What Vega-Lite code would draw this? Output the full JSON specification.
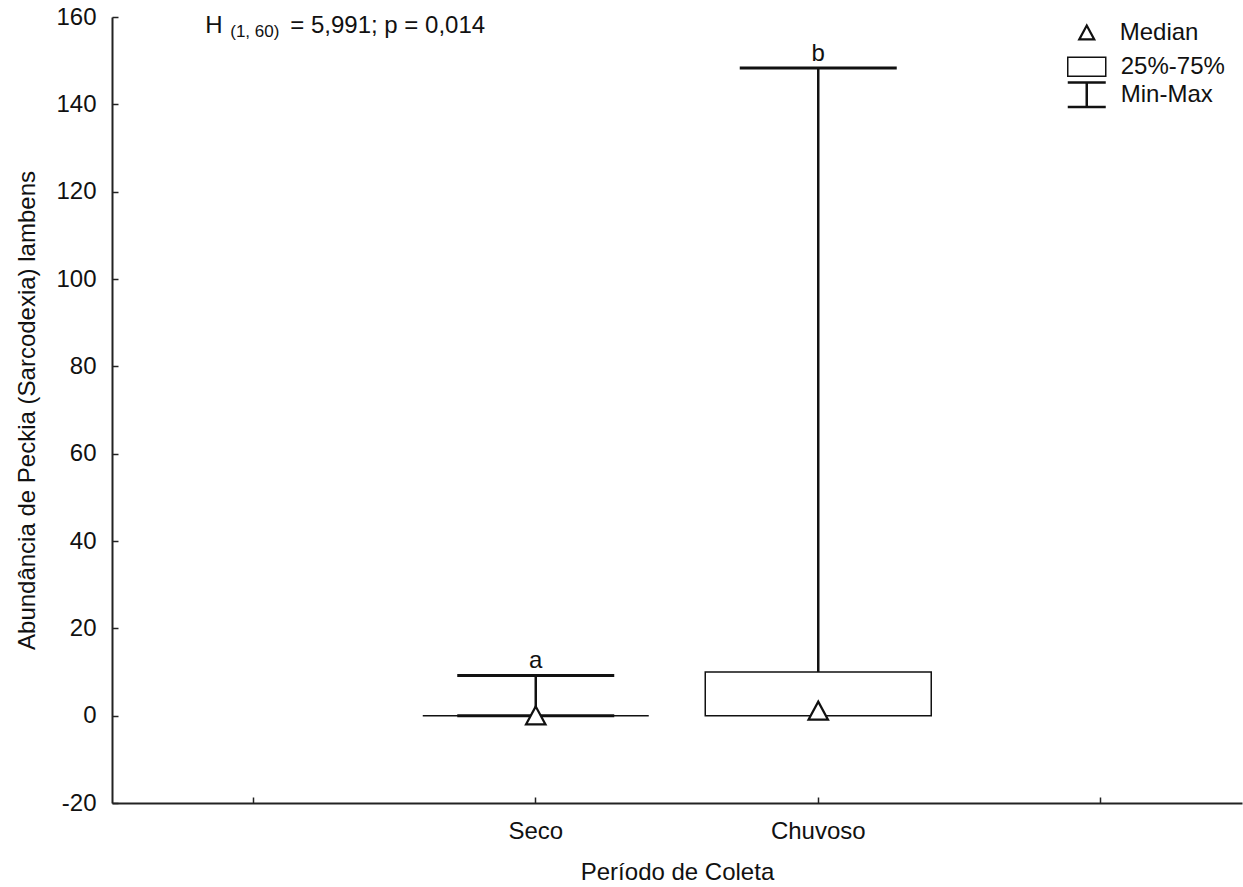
{
  "$schema": "https://vega.github.io/schema/vega-lite/v6.json",
  "width": 1130,
  "height": 786,
  "autosize": {"type": "none"},
  "padding": {"left": 112, "top": 17, "right": 1, "bottom": 84},
  "background": "white",
  "config": {
    "view": {"stroke": null},
    "font": "Liberation Sans",
    "axis": {
      "grid": false,
      "domainColor": "#222222",
      "domainWidth": 2,
      "tickColor": "#222222",
      "tickWidth": 1.5,
      "tickSize": -6,
      "labelColor": "#111111",
      "titleColor": "#111111",
      "labelFont": "Liberation Sans",
      "titleFont": "Liberation Sans",
      "titleFontWeight": "normal",
      "labelFlush": false,
      "labelOverlap": false
    }
  },
  "datasets": {
    "stats": [
      {"periodo": "Seco", "min": 0, "q1": 0, "mediana": 0, "q3": 0, "max": 9.2, "letra": "a"},
      {"periodo": "Chuvoso", "min": 0, "q1": 0, "mediana": 1.1, "q3": 10, "max": 148.3, "letra": "b"}
    ],
    "anot": [{"h": "H", "sub": "(1, 60)", "resto": "= 5,991; p = 0,014"}],
    "legMedian": [{"rotulo": "Median"}],
    "legBox": [{"rotulo": "25%-75%"}],
    "legMinMax": [{"rotulo": "Min-Max"}]
  },
  "data": {"name": "stats"},
  "encoding": {
    "x": {
      "field": "periodo",
      "type": "nominal",
      "sort": null,
      "scale": {"type": "band", "domain": [" ", "Seco", "Chuvoso", "  "], "paddingInner": 0, "paddingOuter": 0},
      "axis": {
        "title": "Período de Coleta",
        "titleFontSize": 24,
        "titlePadding": 17,
        "labelFontSize": 24,
        "labelPadding": 22,
        "labelAngle": 0
      }
    }
  },
  "layer": [
    {
      "mark": {"type": "rule", "color": "#111111", "strokeWidth": 2.5},
      "encoding": {
        "y": {
          "field": "min",
          "type": "quantitative",
          "scale": {"domain": [-20, 160], "nice": false, "zero": false},
          "axis": {
            "values": [-20, 0, 20, 40, 60, 80, 100, 120, 140, 160],
            "labelExpr": "datum.value < 0 ? '-' + abs(datum.value) : '' + datum.value",
            "title": "Abundância de Peckia (Sarcodexia) lambens",
            "titleFontSize": 24,
            "titlePadding": 16,
            "labelFontSize": 24,
            "labelPadding": 22
          }
        },
        "y2": {"field": "max"}
      }
    },
    {
      "mark": {"type": "tick", "color": "#111111", "size": 157, "thickness": 3, "opacity": 1},
      "encoding": {"y": {"field": "max", "type": "quantitative"}}
    },
    {
      "transform": [{"filter": "datum.q3 == datum.q1 || datum.min < datum.q1"}],
      "mark": {"type": "tick", "color": "#111111", "size": 157, "thickness": 3, "opacity": 1},
      "encoding": {"y": {"field": "min", "type": "quantitative"}}
    },
    {
      "mark": {"type": "bar", "fill": "white", "stroke": "#111111", "strokeWidth": 1.5, "opacity": 1, "width": {"band": 0.8}},
      "encoding": {
        "y": {"field": "q1", "type": "quantitative"},
        "y2": {"field": "q3"}
      }
    },
    {
      "mark": {"type": "point", "shape": "M0,-0.95L1,0.9L-1,0.9Z", "filled": false, "fill": "white", "stroke": "#111111", "strokeWidth": 2.2, "size": 380, "opacity": 1},
      "encoding": {
        "y": {"field": "mediana", "type": "quantitative"}
      }
    },
    {
      "mark": {"type": "text", "fontSize": 24, "baseline": "alphabetic", "dy": -7, "color": "#111111"},
      "encoding": {
        "y": {"field": "max", "type": "quantitative"},
        "text": {"field": "letra"}
      }
    },
    {
      "data": {"name": "anot"},
      "mark": {"type": "text", "fontSize": 24, "align": "left", "baseline": "alphabetic", "dx": -48, "color": "#111111"},
      "encoding": {
        "x": {"datum": " "},
        "y": {"datum": 156.4},
        "text": {"field": "h"}
      }
    },
    {
      "data": {"name": "anot"},
      "mark": {"type": "text", "fontSize": 17, "align": "left", "baseline": "alphabetic", "dx": -23, "dy": 4, "color": "#111111"},
      "encoding": {
        "x": {"datum": " "},
        "y": {"datum": 156.4},
        "text": {"field": "sub"}
      }
    },
    {
      "data": {"name": "anot"},
      "mark": {"type": "text", "fontSize": 24, "align": "left", "baseline": "alphabetic", "dx": 37, "color": "#111111"},
      "encoding": {
        "x": {"datum": " "},
        "y": {"datum": 156.4},
        "text": {"field": "resto"}
      }
    },
    {
      "data": {"name": "legMedian"},
      "mark": {"type": "point", "shape": "M0,-0.95L1,0.9L-1,0.9Z", "filled": false, "fill": "white", "stroke": "#111111", "strokeWidth": 2.2, "size": 225, "opacity": 1, "xOffset": -14},
      "encoding": {
        "x": {"datum": "  "},
        "y": {"datum": 156.4}
      }
    },
    {
      "data": {"name": "legBox"},
      "mark": {"type": "point", "shape": "M-1,-0.5H1V0.5H-1Z", "filled": false, "fill": "white", "stroke": "#111111", "strokeWidth": 1.5, "size": 1444, "opacity": 1, "xOffset": -14},
      "encoding": {
        "x": {"datum": "  "},
        "y": {"datum": 148.6}
      }
    },
    {
      "data": {"name": "legMinMax"},
      "mark": {"type": "point", "shape": "M-1,-0.65H1M0,-0.65V0.65M-1,0.65H1", "filled": false, "fill": "transparent", "stroke": "#111111", "strokeWidth": 2.5, "size": 1444, "opacity": 1, "xOffset": -14},
      "encoding": {
        "x": {"datum": "  "},
        "y": {"datum": 142.2}
      }
    },
    {
      "data": {"name": "legMedian"},
      "mark": {"type": "text", "fontSize": 24, "align": "left", "baseline": "middle", "dx": 19, "color": "#111111"},
      "encoding": {
        "x": {"datum": "  "},
        "y": {"datum": 156.4},
        "text": {"field": "rotulo"}
      }
    },
    {
      "data": {"name": "legBox"},
      "mark": {"type": "text", "fontSize": 24, "align": "left", "baseline": "middle", "dx": 20, "color": "#111111"},
      "encoding": {
        "x": {"datum": "  "},
        "y": {"datum": 148.6},
        "text": {"field": "rotulo"}
      }
    },
    {
      "data": {"name": "legMinMax"},
      "mark": {"type": "text", "fontSize": 24, "align": "left", "baseline": "middle", "dx": 20, "color": "#111111"},
      "encoding": {
        "x": {"datum": "  "},
        "y": {"datum": 142.2},
        "text": {"field": "rotulo"}
      }
    }
  ]
}
